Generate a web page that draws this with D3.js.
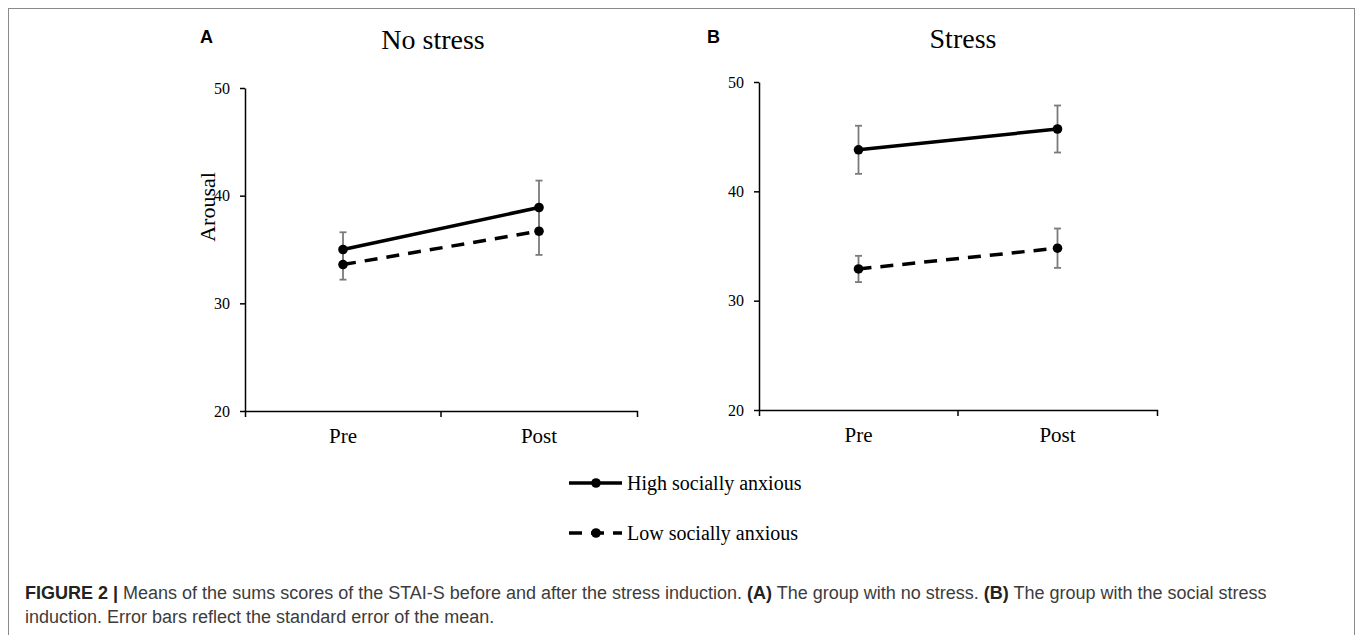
<!DOCTYPE html>
<html>
<head>
<meta charset="utf-8">
<script src="https://cdn.jsdelivr.net/npm/d3@7"></script>
<style>
body { margin: 0; background: #fff; }
</style>
</head>
<body>
<div id="figure_div"></div>
<script>
const phases = ["Pre", "Post"];
const panelTitles = ["No stress", "Stress"];
const panelLetters = ["A", "B"];
const groupNames = ["High socially anxious", "Low socially anxious"];
const yTicks = [20, 30, 40, 50];

// means and standard errors, [Pre, Post]
const highNoStress = [35.0, 38.9];
const highNoStressSE = [1.6, 2.5];
const lowNoStress = [33.6, 36.7];
const lowNoStressSE = [1.4, 2.2];
const highStress = [43.8, 45.7];
const highStressSE = [2.2, 2.15];
const lowStress = [32.9, 34.8];
const lowStressSE = [1.2, 1.8];

const captionLine1 = [
    { t: "FIGURE 2 | ", bold: true },
    { t: "Means of the sums scores of the STAI-S before and after the stress induction. ", bold: false },
    { t: "(A)", bold: true },
    { t: " The group with no stress. ", bold: false },
    { t: "(B)", bold: true },
    { t: " The group with the social stress", bold: false }
];
const captionLine2 = "induction. Error bars reflect the standard error of the mean.";

const WIDTH = 1357;
const HEIGHT = 635;
const SERIF = "'Liberation Serif', 'Times New Roman', serif";
const SANS = "'Liberation Sans', Arial, sans-serif";
const DASH = "13,9";

var svg = d3.select("#figure_div")
    .append("svg")
    .attr("width", WIDTH)
    .attr("height", HEIGHT);

// frame round the figure
svg.append("rect")
    .attr("x", 8.5)
    .attr("y", 8.5)
    .attr("width", 1346)
    .attr("height", 660)
    .attr("fill", "none")
    .attr("stroke", "#8a8a8a")
    .attr("stroke-width", 1);

var panels = [
    { left: 245, right: 637, top: 88, bottom: 411, titleX: 433, letterX: 200, yLabel: true,
      series: [{ v: highNoStress, se: highNoStressSE, dash: null }, { v: lowNoStress, se: lowNoStressSE, dash: DASH }] },
    { left: 759, right: 1157, top: 82, bottom: 410, titleX: 963, letterX: 707, yLabel: false,
      series: [{ v: highStress, se: highStressSE, dash: null }, { v: lowStress, se: lowStressSE, dash: DASH }] }
];

panels.forEach((p, i) => drawPanel(p, i));

function drawPanel(p, i) {
    var x = d3.scaleBand().domain(phases).range([p.left, p.right]).padding(0);
    var y = d3.scaleLinear().domain([20, 50]).range([p.bottom, p.top]);
    var g = svg.append("g");

    // x axis: outer ticks at both ends, one more between the two bands
    var xAxis = g.append("g")
        .attr("transform", "translate(0," + p.bottom + ")")
        .call(d3.axisBottom(x).tickSizeInner(0).tickSizeOuter(6).tickPadding(17));
    xAxis.append("line")
        .attr("x1", x("Post")).attr("x2", x("Post"))
        .attr("y1", 0).attr("y2", 6)
        .attr("stroke", "#000").attr("stroke-width", 1.5);
    xAxis.selectAll("text")
        .style("font-family", SERIF)
        .style("font-size", "21px")
        .attr("fill", "#000");

    var yAxis = g.append("g")
        .attr("transform", "translate(" + p.left + ",0)")
        .call(d3.axisLeft(y).tickValues(yTicks).tickSizeInner(5).tickSizeOuter(0).tickPadding(10));
    yAxis.selectAll("text")
        .style("font-family", SERIF)
        .style("font-size", "16px")
        .attr("fill", "#000");

    g.selectAll(".domain, .tick line")
        .attr("stroke", "#000")
        .attr("stroke-width", 1.5);

    // panel title and letter
    g.append("text")
        .attr("x", p.titleX)
        .attr("y", i == 0 ? 49 : 48)
        .attr("text-anchor", "middle")
        .style("font-family", SERIF)
        .style("font-size", "28px")
        .text(panelTitles[i]);
    g.append("text")
        .attr("x", p.letterX)
        .attr("y", 43)
        .style("font-family", SANS)
        .style("font-weight", "bold")
        .style("font-size", "18px")
        .text(panelLetters[i]);

    if (p.yLabel) {
        g.append("text")
            .attr("transform", "translate(207,207) rotate(-90)")
            .attr("dy", "0.35em")
            .attr("text-anchor", "middle")
            .style("font-family", SERIF)
            .style("font-size", "22px")
            .text("Arousal");
    }

    var cx = d => x(d.phase) + x.bandwidth() / 2;

    p.series.forEach(s => {
        var pts = phases.map((ph, k) => ({ phase: ph, v: s.v[k], se: s.se[k] }));

        // error bars
        var eb = g.append("g").selectAll("g").data(pts).enter().append("g")
            .attr("stroke", "#7a7a7a")
            .attr("stroke-width", 1.8);
        eb.append("line")
            .attr("x1", cx).attr("x2", cx)
            .attr("y1", d => y(d.v - d.se)).attr("y2", d => y(d.v + d.se));
        eb.append("line")
            .attr("x1", d => cx(d) - 3.5).attr("x2", d => cx(d) + 3.5)
            .attr("y1", d => y(d.v + d.se)).attr("y2", d => y(d.v + d.se));
        eb.append("line")
            .attr("x1", d => cx(d) - 3.5).attr("x2", d => cx(d) + 3.5)
            .attr("y1", d => y(d.v - d.se)).attr("y2", d => y(d.v - d.se));

        s.pts = pts;
    });

    p.series.forEach(s => {
        g.append("path")
            .datum(s.pts)
            .attr("fill", "none")
            .attr("stroke", "#000")
            .attr("stroke-width", 3.5)
            .attr("stroke-dasharray", s.dash)
            .attr("d", d3.line().x(cx).y(d => y(d.v)));

        g.selectAll(null)
            .data(s.pts)
            .enter()
            .append("circle")
            .attr("cx", cx)
            .attr("cy", d => y(d.v))
            .attr("r", 4.8)
            .attr("fill", "#000");
    });
}

// legend
var legend = svg.append("g").attr("transform", "translate(569,0)");
var legendY = d3.scalePoint().domain(groupNames).range([483, 533]);
var legendDash = [null, DASH];

groupNames.forEach((name, k) => {
    var ly = legendY(name);
    legend.append("line")
        .attr("x1", 0).attr("x2", 53)
        .attr("y1", ly).attr("y2", ly)
        .attr("stroke", "#000")
        .attr("stroke-width", 3.5)
        .attr("stroke-dasharray", legendDash[k]);
    legend.append("circle")
        .attr("cx", 27).attr("cy", ly)
        .attr("r", 4.8)
        .attr("fill", "#000");
    legend.append("text")
        .attr("x", 58)
        .attr("y", ly + 7)
        .style("font-family", SERIF)
        .style("font-size", "20px")
        .text(name);
});

// caption
var cap = svg.append("text")
    .attr("x", 25)
    .attr("y", 599)
    .style("font-family", SANS)
    .style("font-size", "18px")
    .attr("fill", "#3c3c3c");
captionLine1.forEach(c => {
    cap.append("tspan")
        .style("font-weight", c.bold ? "bold" : "normal")
        .attr("fill", c.bold ? "#222" : "#3c3c3c")
        .text(c.t);
});
svg.append("text")
    .attr("x", 25)
    .attr("y", 623)
    .style("font-family", SANS)
    .style("font-size", "18px")
    .attr("fill", "#3c3c3c")
    .text(captionLine2);
</script>
</body>
</html>
